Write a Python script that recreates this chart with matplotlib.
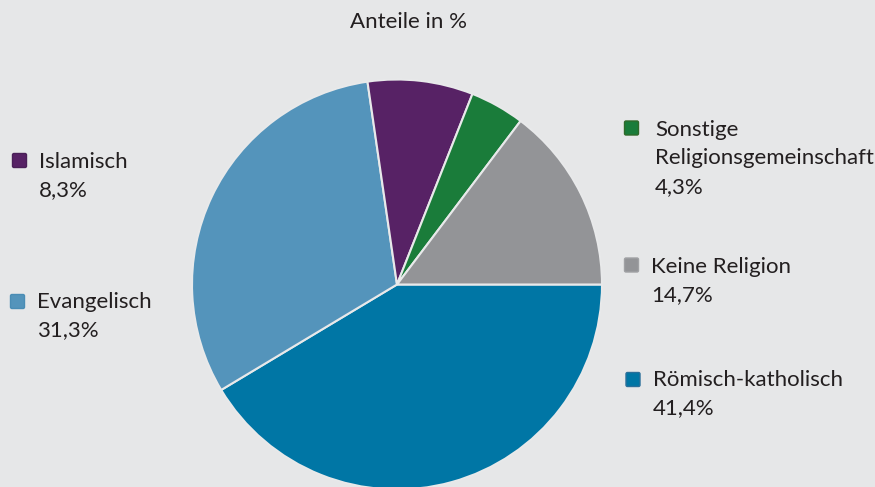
import matplotlib
matplotlib.use("Agg")
import matplotlib.pyplot as plt
from matplotlib.patches import FancyBboxPatch

labels = ["Römisch-katholisch", "Evangelisch", "Islamisch",
          "Sonstige\nReligionsgemeinschaft", "Keine Religion"]
values = [41.4, 31.3, 8.3, 4.3, 14.7]
value_labels = ["41,4%", "31,3%", "8,3%", "4,3%", "14,7%"]
colors = ["#0076a5", "#5494bb", "#572265", "#1a7c3a", "#939497"]
edge_colors = ["#2a6f9a", "#4a8db5", "#4a2058", "#2f6a2a", "#a0a1a4"]
title = "Anteile in %"

BG = "#e6e7e8"
TXT = "#231f20"
W, H = 875, 487

fig = plt.figure(figsize=(W / 100, H / 100), dpi=100, facecolor=BG)
ax = fig.add_axes([0, 0, 1, 1])
ax.set_facecolor(BG)

ax.pie(values, colors=colors, startangle=0, counterclock=False,
       center=(397, H - 284.5), radius=205, frame=True,
       wedgeprops=dict(edgecolor="#e8e9ea", linewidth=1.5))
ax.set_xlim(0, W)
ax.set_ylim(0, H)
ax.set_aspect("equal")
ax.axis("off")

FONT = "Lato"
FS = 16

ax.text(408, H - 22, title, ha="center", va="center", fontsize=FS,
        color=TXT, family=FONT)

# legend entries: (marker center x, marker center y, text x, first line y)
entries = {
    0: (633, 379.5, 653, 380),
    1: (17.5, 301.5, 37, 302),
    2: (19.5, 160.5, 39, 162),
    3: (631.5, 128, 655, 130),
    4: (631.5, 265, 651, 267),
}
LS = 28.5
for i, (mx, my, tx, ty) in entries.items():
    s = 14
    ax.add_patch(FancyBboxPatch((mx - s / 2, H - my - s / 2), s, s,
                                boxstyle="round,pad=0,rounding_size=1.5",
                                facecolor=colors[i], edgecolor=edge_colors[i],
                                linewidth=1.0))
    lines = labels[i].split("\n") + [value_labels[i]]
    for k, line in enumerate(lines):
        ax.text(tx, H - (ty + k * LS), line, ha="left", va="center",
                fontsize=FS, color=TXT, family=FONT)

fig.savefig("out.png", dpi=100, facecolor=BG)
